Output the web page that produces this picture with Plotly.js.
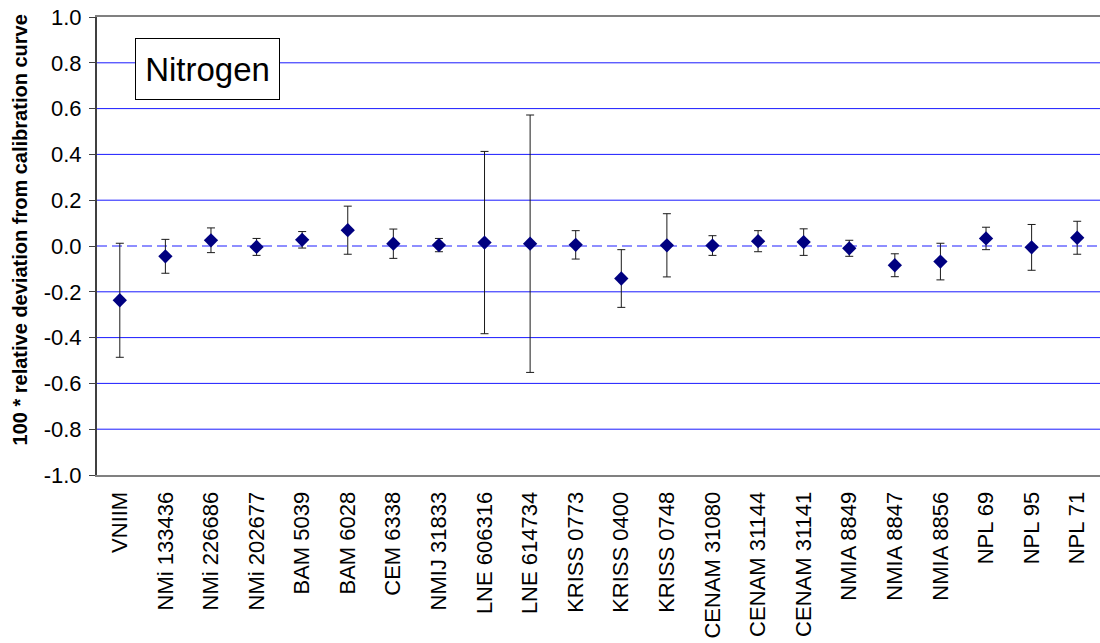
<!DOCTYPE html>
<html>
<head>
<meta charset="utf-8">
<script src="https://cdn.plot.ly/plotly-3.0.1.min.js"></script>
<style>html,body{margin:0;padding:0;background:#fff;}#chart{width:1100px;height:643px;}</style>
</head>
<body>
<div id="chart"></div>
<script>
const categories = ["VNIIM","NMi 133436","NMi 226686","NMi 202677","BAM 5039","BAM 6028","CEM 6338","NMIJ 31833","LNE 606316","LNE 614734","KRISS 0773","KRISS 0400","KRISS 0748","CENAM 31080","CENAM 31144","CENAM 31141","NMIA 8849","NMIA 8847","NMIA 8856","NPL 69","NPL 95","NPL 71"];
const deviation = [-0.237,-0.045,0.025,-0.004,0.027,0.069,0.010,0.004,0.015,0.010,0.005,-0.142,0.003,0.002,0.021,0.017,-0.010,-0.084,-0.068,0.033,-0.006,0.036];
const uncertainty = [0.249,0.074,0.054,0.037,0.036,0.105,0.064,0.029,0.398,0.562,0.062,0.126,0.138,0.043,0.046,0.058,0.035,0.050,0.080,0.049,0.100,0.072];
const yTickValues = [-1.0,-0.8,-0.6,-0.4,-0.2,0.0,0.2,0.4,0.6,0.8,1.0];
const yTickLabels = ["-1.0","-0.8","-0.6","-0.4","-0.2","0.0","0.2","0.4","0.6","0.8","1.0"];
const gridValues = [-0.8,-0.6,-0.4,-0.2,0.2,0.4,0.6,0.8];
const referenceLevel = 0;
const chartLabel = "Nitrogen";
const yTitle = "100 * relative deviation from calibration curve";

const font = "Arial, 'Liberation Sans', sans-serif";

const trace = {
  type: "scatter",
  mode: "markers",
  x: categories,
  y: deviation,
  error_y: {type: "data", array: uncertainty, visible: true, color: "#1a1a1a", thickness: 1, width: 4},
  marker: {symbol: "diamond", size: 11, color: "#000080"},
  hoverinfo: "x+y"
};

const shapes = gridValues.map(v => ({
  type: "line", xref: "paper", yref: "y", x0: 0, x1: 1, y0: v, y1: v,
  line: {color: "#1a1aff", width: 1}, layer: "below"
}));
shapes.push({
  type: "line", xref: "paper", yref: "y", x0: 0, x1: 1, y0: referenceLevel, y1: referenceLevel,
  line: {color: "#6a6aff", width: 1.6, dash: "10px,5px"}, layer: "below"
});

const layout = {
  width: 1100, height: 643,
  margin: {l: 97, r: 0, t: 17, b: 168},
  paper_bgcolor: "#ffffff", plot_bgcolor: "#ffffff",
  showlegend: false,
  font: {family: font, color: "#000"},
  xaxis: {
    type: "category",
    range: [-0.5, categories.length - 0.5],
    showgrid: false, zeroline: false,
    showline: true, linecolor: "#808080", linewidth: 2, mirror: true,
    ticks: "", tickangle: -90,
    ticklabelstandoff: 6,
    tickfont: {family: font, size: 22, color: "#000"}
  },
  yaxis: {
    range: [-1, 1], tickmode: "array", tickvals: yTickValues, ticktext: yTickLabels,
    showgrid: false, zeroline: false,
    showline: true, linecolor: "#404040", linewidth: 2,
    ticks: "outside", ticklen: 6, tickcolor: "#404040", tickwidth: 1,
    ticklabelstandoff: 3,
    tickfont: {family: font, size: 22, color: "#000"}
  },
  shapes: shapes,
  annotations: [
    {
      text: chartLabel, xref: "paper", yref: "paper",
      x: 0.110, y: 0.8865, xanchor: "center", yanchor: "middle",
      showarrow: false, font: {family: font, size: 33, color: "#000"},
      bgcolor: "#ffffff", bordercolor: "#000", borderwidth: 1, borderpad: 1,
      width: 141, height: 58
    },
    {
      text: "<b>" + yTitle + "</b>", xref: "paper", yref: "paper",
      x: -0.0768, y: 0.536, xanchor: "center", yanchor: "middle",
      textangle: -90, showarrow: false,
      font: {family: font, size: 20, color: "#000"}
    }
  ]
};

Plotly.newPlot("chart", [trace], layout, {displayModeBar: false, staticPlot: true});
</script>
</body>
</html>
